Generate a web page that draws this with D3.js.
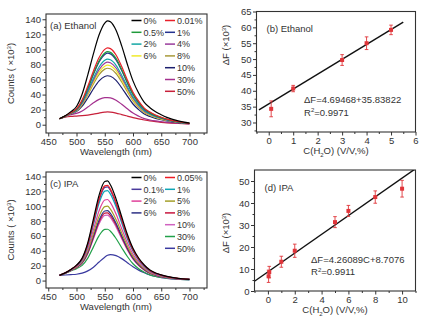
<!DOCTYPE html>
<html><head><meta charset="utf-8">
<script src="https://cdn.jsdelivr.net/npm/d3@7"></script>
<style>body{margin:0;background:#fff}svg{display:block;font-family:"Liberation Sans",Arial,sans-serif}</style>
</head><body>
<script>
// ---------- DATA ----------
const wavelengths = [470,480,490,500,510,520,530,540,550,555,560,570,580,590,600,610,620,630,640,650,660,680,700];

const ethanolLabels = ["0%","0.01%","0.5%","1%","2%","4%","6%","8%","10%","30%","50%"];
const eth_0   = [8,11.9,17.4,24.2,40.7,66.2,94.4,119.4,135,138,136.7,125.4,104.6,80.3,58.2,42,29.6,22.6,17.2,13.2,9.8,5.1,2.1];
const eth_001 = [8,11.5,16,20.9,32.8,51.1,71.4,89.2,100,102,101,92.6,77.2,59.4,43.1,31.2,22,16.8,12.9,9.9,7.4,4,1.8];
const eth_05  = [8,11.4,15.8,20.5,31.7,49,68.2,85,95.2,97,96.1,88,73.4,56.5,41,29.7,21,16,12.3,9.5,7.1,3.8,1.8];
const eth_1   = [8,11.4,15.7,20.3,31.2,48.1,66.9,83.3,93.2,95,94.1,86.2,71.9,55.4,40.1,29.1,20.5,15.7,12,9.3,7,3.8,1.7];
const eth_2   = [8,11.3,15.4,19.6,29.5,44.8,61.8,76.6,85.5,87,86.2,78.9,65.8,50.7,36.8,26.7,18.8,14.4,11.1,8.6,6.5,3.5,1.7];
const eth_4   = [8,11.3,15.2,19.2,28.6,43.1,59.2,73.2,81.6,83,82.2,75.3,62.8,48.4,35.1,25.5,18,13.8,10.6,8.2,6.2,3.4,1.6];
const eth_6   = [8,11.3,15,18.8,27.7,41.4,56.6,69.8,77.7,79,78.2,71.7,59.8,46.1,33.4,24.3,17.2,13.2,10.1,7.8,5.9,3.3,1.6];
const eth_8   = [8,11.2,14.9,18.5,26.8,39.7,54.1,66.5,73.8,75,74.3,68,56.7,43.8,31.7,23.1,16.3,12.5,9.6,7.5,5.7,3.2,1.6];
const eth_10  = [8,11.1,14.5,17.6,24.6,35.5,47.7,58.1,64.1,65,64.4,58.9,49.1,38,27.5,20.1,14.2,10.9,8.4,6.6,5,2.9,1.5];
const eth_30  = [8,10.8,13.3,15,18.3,23.4,29.1,33.7,36,36,35.7,32.5,27.1,21.1,15.4,11.4,8.1,6.3,5,4,3.1,2,1.3];
const eth_50  = [8,10,11,11.5,12,12.8,14,15.5,16.7,17,16.8,15.5,13.5,11.5,9.5,7.8,6.3,5,4,3.2,2.5,1.6,1];
const ethanolSeries = [eth_0,eth_001,eth_05,eth_1,eth_2,eth_4,eth_6,eth_8,eth_10,eth_30,eth_50];
const ethanolColors = ["#000000","#e8202a","#1f9a3a","#24338f","#14a7a5","#9a3c9c","#f0ea2a","#a89a3a","#1c1f6e","#a4308e","#c8203a"];

const ipaLabels = ["0%","0.05%","0.1%","1%","2%","5%","6%","8%","10%","30%","50%"];
const ipa_0   = [7,10.3,14.9,20.7,30.2,50.9,83,115,133.2,134,128.8,109.9,85.8,62.3,43.4,30.3,20.9,14.1,10.2,7.6,5.6,3,1.7];
const ipa_005 = [7,10.3,14.8,20.3,29.3,49,79.5,110,127.3,128,123,105,82,59.5,41.5,29,20,13.5,9.8,7.3,5.4,2.9,1.6];
const ipa_01  = [7,10.2,14.7,20.1,29,48.4,78.3,108.3,125.3,126,121.1,103.4,80.7,58.6,40.9,28.6,19.7,13.3,9.6,7.2,5.3,2.8,1.6];
const ipa_1   = [7,10.2,14.5,19.8,28.2,46.8,75.4,104.1,120.3,121,116.3,99.3,77.5,56.3,39.3,27.5,18.9,12.8,9.3,6.9,5.1,2.8,1.6];
const ipa_2   = [7,10.1,14.2,18.9,26.4,42.9,68.5,94,108.4,109,104.8,89.4,69.8,50.8,35.4,24.8,17.1,11.6,8.4,6.3,4.7,2.6,1.5];
const ipa_5   = [7,10,13.9,18.3,25.1,40,63.3,86.5,99.5,100,96.1,82,64.1,46.6,32.5,22.8,15.8,10.7,7.8,5.9,4.4,2.5,1.5];
const ipa_6   = [7,9.9,13.7,17.9,24.2,38.1,59.8,81.4,93.6,94,90.4,77.1,60.2,43.9,30.6,21.5,14.9,10.1,7.4,5.6,4.2,2.4,1.5];
const ipa_8   = [7,9.9,13.6,17.7,23.7,37.2,58,78.9,90.6,91,87.5,74.7,58.3,42.5,29.7,20.9,14.4,9.8,7.2,5.4,4.1,2.3,1.4];
const ipa_10  = [7,9.9,13.6,17.5,23.3,36.2,56.3,76.4,87.7,88,84.6,72.2,56.4,41.1,28.7,20.2,14,9.5,7,5.3,4,2.3,1.4];
const ipa_30  = [7,9.7,13,16.1,20.4,30.1,45.3,60.4,68.8,69,66.4,56.6,44.2,32.4,22.6,16,11.1,7.6,5.6,4.3,3.3,2,1.3];
const ipa_50  = [7,7.5,8,8.5,10,13,18,25,31.5,34,35,33.5,29.5,24,18.5,14,10.5,7.5,5.5,4,3,1.8,1];
const ipaSeries = [ipa_0,ipa_005,ipa_01,ipa_1,ipa_2,ipa_5,ipa_6,ipa_8,ipa_10,ipa_30,ipa_50];
const ipaColors = ["#000000","#ee1c24","#4a3a9c","#10a6b6","#e0409a","#a4a02a","#2d3185","#c8163e","#d062c0","#22a04a","#3a3aa0"];

const wlTicks = [450,500,550,600,650,700];
const countTicks = [0,20,40,60,80,100,120,140];

const ethConc = [0.1,1,3,4,5];
const ethDF   = [34.3,40.7,49.7,55.0,59.2];
const ethErr  = [2.5,1.0,1.7,2.0,1.5];
const ethFit  = {slope:4.69468, intercept:35.83822};
const ethFitRange = [-0.4,5.5];
const ethXTicks = [0,1,2,3,4,5,6];
const ethYTicks = [30,35,40,45,50,55,60,65];

const ipaConc = [0.05,0.1,1,2,5,6,8,10];
const ipaDF   = [6.7,8.6,13.3,18.3,31.3,36.4,42.7,46.5];
const ipaErr  = [2.8,2.6,2.5,3.0,2.5,2.5,2.8,3.8];
const ipaFit  = {slope:4.26089, intercept:8.7076};
const ipaFitRange = [-1,11];
const ipaXTicks = [0,2,4,6,8,10];
const ipaYTicks = [0,10,20,30,40,50];

// ---------- DRAW ----------
const svg = d3.select("body").append("svg").attr("width",430).attr("height",325);
svg.append("rect").attr("width",430).attr("height",325).attr("fill","#fff");
const TXT = "#333";
const fmt = d3.format("d");

function frame(x, y, o){
  const g = svg.append("g");
  const [x0,x1] = x.range(), [y0,y1] = y.range();
  g.append("g").attr("transform",`translate(0,${y0})`)
    .call(d3.axisBottom(x).tickValues(o.xMinor).tickSize(2).tickFormat(""))
    .call(a=>{a.select(".domain").remove();a.selectAll("line").attr("stroke",TXT);});
  g.append("g").attr("transform",`translate(${x0},0)`)
    .call(d3.axisLeft(y).tickValues(o.yMinor).tickSize(2).tickFormat(""))
    .call(a=>{a.select(".domain").remove();a.selectAll("line").attr("stroke",TXT);});
  g.append("g").attr("transform",`translate(0,${y0})`)
    .call(d3.axisBottom(x).tickValues(o.xTicks).tickFormat(fmt).tickSize(3.5).tickPadding(1.5))
    .call(a=>{a.select(".domain").remove();a.selectAll("line").attr("stroke",TXT);
      a.selectAll("text").attr("fill",TXT).style("font-size","9.5px").style("font-family","Liberation Sans, Arial");});
  g.append("g").attr("transform",`translate(${x0},0)`)
    .call(d3.axisLeft(y).tickValues(o.yTicks).tickFormat(fmt).tickSize(3.5).tickPadding(1.5))
    .call(a=>{a.select(".domain").remove();a.selectAll("line").attr("stroke",TXT);
      a.selectAll("text").attr("fill",TXT).style("font-size","9.5px").style("font-family","Liberation Sans, Arial");});
  g.append("rect").attr("x",x0).attr("y",y1).attr("width",x1-x0).attr("height",y0-y1)
    .attr("fill","none").attr("stroke",TXT).attr("stroke-width",1.1);
  const xt = g.append("text").attr("x",o.xtX).attr("y",o.xtY).attr("text-anchor","middle")
    .attr("fill",TXT).style("font-size","9.5px");
  o.xTitle(xt);
  const yt = g.append("text").attr("transform",`translate(${o.ytX},${o.ytY}) rotate(-90)`)
    .attr("text-anchor","middle").attr("fill",TXT).style("font-size","9.5px");
  o.yTitle(yt);
  return g;
}
function countsTitle(t){
  t.append("tspan").text("Counts ( \u00d710");
  t.append("tspan").attr("dy",-3.5).style("font-size","6px").text("3");
  t.append("tspan").attr("dy",3.5).text(")");
}
function dfTitle(t){
  t.append("tspan").text("\u0394F (\u00d710");
  t.append("tspan").attr("dy",-3.5).style("font-size","6px").text("3");
  t.append("tspan").attr("dy",3.5).text(")");
}
function cTitle(t){
  t.append("tspan").text("C(H");
  t.append("tspan").attr("dy",2.5).style("font-size","6px").text("2");
  t.append("tspan").attr("dy",-2.5).text("O) (V/V,%)");
}
function r2(g, x, yb, val){
  const t = g.append("text").attr("x",x).attr("y",yb).attr("fill",TXT).style("font-size","9.5px");
  t.append("tspan").text("R");
  t.append("tspan").attr("dy",-3.5).style("font-size","6px").text("2");
  t.append("tspan").attr("dy",3.5).text("="+val);
}

function spectraPanel(series, colors, labels, yr, tag, legendRows){
  const x = d3.scaleLinear().domain([446,731]).range([46,207]);
  const y = d3.scaleLinear().domain(yr.domain).range(yr.range);
  const g = frame(x,y,{xTicks:wlTicks, xMinor:d3.range(475,731,50), yTicks:countTicks, yMinor:d3.range(10,147,20),
    xtX:116, xtY:yr.range[0]+22, ytX:14, ytY:(yr.range[0]+yr.range[1])/2,
    xTitle:t=>t.text("Wavelength (nm)"), yTitle:countsTitle});
  const line = d3.line().x((d,i)=>x(wavelengths[i])).y(d=>y(d)).curve(d3.curveMonotoneX);
  for(let i=series.length-1;i>=0;i--){
    g.append("path").attr("d",line(series[i])).attr("fill","none").attr("stroke",colors[i]).attr("stroke-width",1.2);
  }
  g.append("text").attr("x",50).attr("y",yr.range[1]+14.5).attr("fill",TXT).style("font-size","9.5px").text(tag);
  legendRows.forEach(row=>{
    row.forEach(item=>{
      const [idx,lx,ly] = item;
      g.append("line").attr("x1",lx).attr("x2",lx+10).attr("y1",ly).attr("y2",ly)
        .attr("stroke",colors[idx]).attr("stroke-width",1.5);
      g.append("text").attr("x",lx+12).attr("y",ly+3.2).attr("fill",TXT).style("font-size","9px").text(labels[idx]);
    });
  });
}

function legendLayout(top, step){
  const rows = [];
  const c1 = 131.5, c2 = 165;
  rows.push([[0,c1,top],[1,c2,top]]);
  rows.push([[2,c1,top+step],[3,c2,top+step]]);
  rows.push([[4,c1,top+2*step],[5,c2,top+2*step]]);
  rows.push([[6,c1,top+3*step],[7,c2,top+3*step]]);
  rows.push([[8,c2,top+4*step]]);
  rows.push([[9,c2,top+5*step]]);
  rows.push([[10,c2,top+6*step]]);
  return rows;
}

spectraPanel(ethanolSeries, ethanolColors, ethanolLabels, {domain:[-11,147],range:[133,14]}, "(a)  Ethanol", legendLayout(20.5,11.8));
spectraPanel(ipaSeries, ipaColors, ipaLabels, {domain:[-10,146],range:[288,172]}, "(c)  IPA", legendLayout(177.5,11.8));

function fitPanel(cx, df, err, fit, fitRange, xd, xr, yd, yr, xTicks, yTicks, xMinor, yMinor, tag, eq, r2v, eqX, eqY, ytY){
  const x = d3.scaleLinear().domain(xd).range(xr);
  const y = d3.scaleLinear().domain(yd).range(yr);
  const g = frame(x,y,{xTicks, xMinor, yTicks, yMinor,
    xtX:(xr[0]+xr[1])/2, xtY:yr[0]+22, ytX:229, ytY:ytY,
    xTitle:cTitle, yTitle:dfTitle});
  const clipId = "clip"+tag.replace(/\W/g,"");
  g.append("clipPath").attr("id",clipId).append("rect").attr("x",xr[0]).attr("y",yr[1]).attr("width",xr[1]-xr[0]).attr("height",yr[0]-yr[1]);
  g.append("line").attr("clip-path",`url(#${clipId})`)
    .attr("x1",x(fitRange[0])).attr("y1",y(fit.slope*fitRange[0]+fit.intercept))
    .attr("x2",x(fitRange[1])).attr("y2",y(fit.slope*fitRange[1]+fit.intercept))
    .attr("stroke","#111").attr("stroke-width",1.4);
  const red = "#e0353a";
  cx.forEach((c,i)=>{
    const px = x(c);
    g.append("line").attr("x1",px).attr("x2",px).attr("y1",y(df[i]-err[i])).attr("y2",y(df[i]+err[i])).attr("stroke",red).attr("stroke-width",0.9);
    [df[i]-err[i], df[i]+err[i]].forEach(v=>{
      g.append("line").attr("x1",px-1.8).attr("x2",px+1.8).attr("y1",y(v)).attr("y2",y(v)).attr("stroke",red).attr("stroke-width",0.9);
    });
    g.append("rect").attr("x",px-2).attr("y",y(df[i])-2).attr("width",4).attr("height",4).attr("fill",red);
  });
  g.append("text").attr("x",xr[0]+10).attr("y",yr[1]+20.5).attr("fill",TXT).style("font-size","9.5px").text(tag);
  g.append("text").attr("x",eqX).attr("y",eqY).attr("fill",TXT).style("font-size","9.5px").text(eq);
  r2(g, eqX, eqY+12.5, r2v);
}

fitPanel(ethConc, ethDF, ethErr, ethFit, ethFitRange, [-0.5,6],[256.5,415.5],[27,65],[132,11.5],
  ethXTicks, ethYTicks, d3.range(-0.5,6,1), d3.range(27.5,65,5),
  "(b)  Ethanol", "\u0394F=4.69468+35.83822", "0.9971", 304, 103, 45);
fitPanel(ipaConc, ipaDF, ipaErr, ipaFit, ipaFitRange, [-1,11],[254.5,415.5],[0,55],[291,170],
  ipaXTicks, ipaYTicks, d3.range(-1,11.1,2), d3.range(5,55,10),
  "(d)  IPA", "\u0394F=4.26089C+8.7076", "0.9911", 311, 262.5, 233);
</script>
</body></html>
